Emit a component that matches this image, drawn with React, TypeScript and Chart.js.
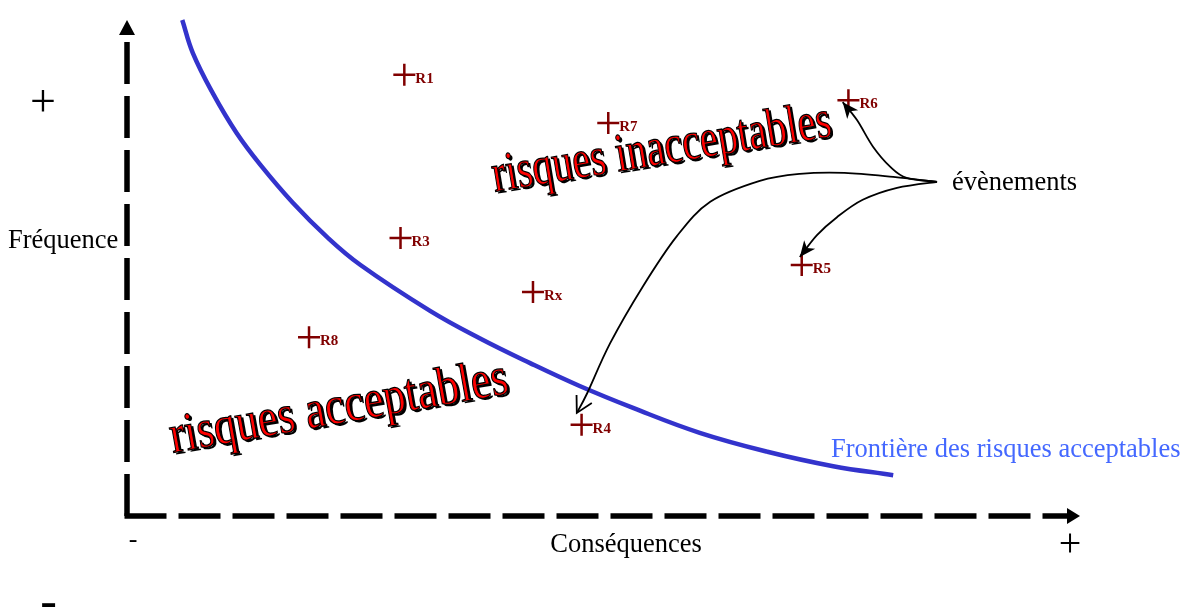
import React, { useEffect, useRef } from "react";
import { Chart, registerables } from "chart.js";

Chart.register(...registerables);

// ---- Data (consequence on x, frequency on y, both on a 0..10 scale) ----
const riskNames = ["R1", "R3", "R4", "R5", "R6", "R7", "R8", "Rx"];
const riskConsequence = [2.91, 2.87, 4.77, 7.08, 7.57, 5.05, 1.91, 4.26];
const riskFrequency = [8.86, 5.58, 1.83, 5.04, 8.35, 7.89, 3.59, 4.5];

const frontierConsequence = [0.58, 0.69, 0.9, 1.15, 1.4, 1.74, 2.1, 2.45, 3.18, 3.7, 4.23, 4.75, 5.31, 6.01, 6.72, 7.41, 8.04];
const frontierFrequency = [9.96, 9.3, 8.49, 7.69, 7.05, 6.29, 5.6, 5.04, 4.12, 3.57, 3.07, 2.61, 2.17, 1.67, 1.29, 1.0, 0.82];

// "évènements" arrows (data coordinates)
const arrowR6X = [8.5, 8.18, 8.01, 7.83, 7.66, 7.51];
const arrowR6Y = [6.71, 6.79, 7.01, 7.41, 7.95, 8.31];
const arrowR5X = [8.5, 8.08, 7.72, 7.45, 7.24, 7.06];
const arrowR5Y = [6.71, 6.59, 6.35, 6.0, 5.64, 5.2];
const arrowR4X = [8.5, 8.04, 7.53, 7.06, 6.64, 6.12, 5.77, 5.41, 5.07, 4.83, 4.72];
const arrowR4Y = [6.71, 6.81, 6.89, 6.87, 6.73, 6.31, 5.62, 4.6, 3.47, 2.47, 2.07];

// Word-art zone labels: baseline start / end in data coordinates
const zoneLabels = ["risques inacceptables", "risques acceptables"];
const zoneStartX = [3.86, 0.48];
const zoneStartY = [6.51, 1.27];
const zoneEndX = [7.41, 4.02];
const zoneEndY = [7.63, 2.47];

const xAxisTitle = "Conséquences";
const yAxisTitle = "Fréquence";
const eventsLabel = "évènements";
const frontierLabel = "Frontière des risques acceptables";

const SERIF = '"Liberation Serif", "Times New Roman", serif';

type P = { x: number; y: number };

function smoothPath(ctx: CanvasRenderingContext2D, pts: P[]) {
  ctx.moveTo(pts[0].x, pts[0].y);
  for (let i = 0; i < pts.length - 1; i++) {
    const p0 = pts[i - 1] || pts[i];
    const p1 = pts[i];
    const p2 = pts[i + 1];
    const p3 = pts[i + 2] || p2;
    ctx.bezierCurveTo(
      p1.x + (p2.x - p0.x) / 6,
      p1.y + (p2.y - p0.y) / 6,
      p2.x - (p3.x - p1.x) / 6,
      p2.y - (p3.y - p1.y) / 6,
      p2.x,
      p2.y
    );
  }
}

const overlayPlugin = {
  id: "overlay",
  beforeDatasetsDraw(chart: any) {
    const ctx: CanvasRenderingContext2D = chart.ctx;
    const a = chart.chartArea;
    ctx.save();
    ctx.strokeStyle = "#000";
    ctx.fillStyle = "#000";
    ctx.lineWidth = 5.5;
    ctx.lineCap = "butt";
    ctx.setLineDash([42, 12]);
    // vertical axis (from bottom upward)
    ctx.beginPath();
    ctx.moveTo(a.left, a.bottom);
    ctx.lineTo(a.left, a.top + 24);
    ctx.stroke();
    // horizontal axis
    ctx.beginPath();
    ctx.moveTo(a.left - 2.5, a.bottom);
    ctx.lineTo(a.right - 12, a.bottom);
    ctx.stroke();
    ctx.setLineDash([]);
    // arrow heads
    ctx.beginPath();
    ctx.moveTo(a.left, a.top + 2);
    ctx.lineTo(a.left - 8, a.top + 17);
    ctx.lineTo(a.left + 8, a.top + 17);
    ctx.closePath();
    ctx.fill();
    ctx.beginPath();
    ctx.moveTo(a.right, a.bottom);
    ctx.lineTo(a.right - 13, a.bottom - 8);
    ctx.lineTo(a.right - 13, a.bottom + 8);
    ctx.closePath();
    ctx.fill();

    // axis texts
    ctx.fillStyle = "#000";
    ctx.textBaseline = "alphabetic";
    ctx.font = `26.5px ${SERIF}`;
    ctx.textAlign = "left";
    ctx.fillText(yAxisTitle, 8, 248);
    ctx.textAlign = "center";
    ctx.fillText(xAxisTitle, 626, 552);
    ctx.font = `46px ${SERIF}`;
    ctx.fillText("+", 43, 115.5);
    ctx.font = `40px ${SERIF}`;
    ctx.fillText("+", 1070, 556);
    ctx.font = `26px ${SERIF}`;
    ctx.fillText("-", 133, 547);
    ctx.font = `50px ${SERIF}`;
    ctx.fillText("-", 48.5, 617);
    ctx.restore();
  },
  afterDatasetsDraw(chart: any) {
    const ctx: CanvasRenderingContext2D = chart.ctx;
    const xs = chart.scales.x;
    const ys = chart.scales.y;
    const toPx = (xArr: number[], yArr: number[]): P[] =>
      xArr.map((v, i) => ({ x: xs.getPixelForValue(v), y: ys.getPixelForValue(yArr[i]) }));

    ctx.save();
    // risk labels
    const meta = chart.getDatasetMeta(1);
    ctx.font = `bold 15px ${SERIF}`;
    ctx.fillStyle = "#800000";
    ctx.textAlign = "left";
    ctx.textBaseline = "alphabetic";
    meta.data.forEach((pt: any, i: number) => {
      ctx.fillText(riskNames[i], pt.x + 11, pt.y + 8);
    });

    // word-art zone labels
    zoneLabels.forEach((txt, i) => {
      const p0 = { x: xs.getPixelForValue(zoneStartX[i]), y: ys.getPixelForValue(zoneStartY[i]) };
      const p1 = { x: xs.getPixelForValue(zoneEndX[i]), y: ys.getPixelForValue(zoneEndY[i]) };
      const len = Math.hypot(p1.x - p0.x, p1.y - p0.y);
      const ang = Math.atan2(p1.y - p0.y, p1.x - p0.x);
      ctx.save();
      ctx.translate(p0.x, p0.y);
      ctx.rotate(ang);
      ctx.font = `52px ${SERIF}`;
      const w = ctx.measureText(txt).width;
      ctx.scale(len / w, 1.05);
      ctx.fillStyle = "#000";
      ctx.fillText(txt, 2.5, 2.2);
      ctx.fillStyle = "#ff0000";
      ctx.fillText(txt, 0, 0);
      ctx.lineWidth = 1.2;
      ctx.strokeStyle = "#000";
      ctx.strokeText(txt, 0, 0);
      ctx.restore();
    });

    // event arrows
    ctx.strokeStyle = "#000";
    ctx.fillStyle = "#000";
    ctx.lineWidth = 1.8;
    const drawArrow = (pts: P[], filled: boolean) => {
      ctx.beginPath();
      smoothPath(ctx, pts);
      ctx.stroke();
      const tip = pts[pts.length - 1];
      const prev = pts[pts.length - 2];
      const ang = Math.atan2(tip.y - prev.y, tip.x - prev.x);
      if (filled) {
        const L = 16;
        const W = 7;
        const bx = tip.x - L * Math.cos(ang);
        const by = tip.y - L * Math.sin(ang);
        const nx = -Math.sin(ang);
        const ny = Math.cos(ang);
        const mx = tip.x - L * 0.72 * Math.cos(ang);
        const my = tip.y - L * 0.72 * Math.sin(ang);
        ctx.beginPath();
        ctx.moveTo(tip.x, tip.y);
        ctx.lineTo(bx + nx * W, by + ny * W);
        ctx.lineTo(mx, my);
        ctx.lineTo(bx - nx * W, by - ny * W);
        ctx.closePath();
        ctx.fill();
      } else {
        const L = 18;
        const spread = 0.5;
        ctx.beginPath();
        ctx.moveTo(tip.x - L * Math.cos(ang - spread), tip.y - L * Math.sin(ang - spread));
        ctx.lineTo(tip.x, tip.y);
        ctx.lineTo(tip.x - L * Math.cos(ang + spread), tip.y - L * Math.sin(ang + spread));
        ctx.stroke();
      }
    };
    drawArrow(toPx(arrowR6X, arrowR6Y), true);
    drawArrow(toPx(arrowR5X, arrowR5Y), true);
    drawArrow(toPx(arrowR4X, arrowR4Y), false);

    // event / frontier texts
    ctx.font = `26.5px ${SERIF}`;
    ctx.fillStyle = "#000";
    ctx.textAlign = "left";
    ctx.fillText(eventsLabel, 952, 190);
    ctx.fillStyle = "#4468ff";
    ctx.fillText(frontierLabel, 831, 457);
    ctx.restore();
  },
};

export default function App() {
  const ref = useRef<HTMLCanvasElement>(null);
  useEffect(() => {
    const canvas = ref.current;
    if (!canvas) return;
    const chart = new Chart(canvas, {
      type: "scatter",
      data: {
        datasets: [
          {
            type: "line",
            label: frontierLabel,
            data: frontierConsequence.map((x, i) => ({ x, y: frontierFrequency[i] })),
            borderColor: "#3333cc",
            borderWidth: 4.5,
            pointRadius: 0,
            fill: false,
            tension: 0.4,
            clip: false,
          } as any,
          {
            label: "Risques",
            data: riskConsequence.map((x, i) => ({ x, y: riskFrequency[i] })),
            pointStyle: "cross",
            pointRadius: 11,
            pointBorderWidth: 2.5,
            borderColor: "#800000",
            backgroundColor: "#800000",
            showLine: false,
            clip: false,
          } as any,
        ],
      },
      options: {
        responsive: false,
        animation: false,
        events: [],
        layout: { padding: { left: 127, right: 105, top: 18, bottom: 91 } },
        scales: {
          x: { type: "linear", min: 0, max: 10, display: false },
          y: { type: "linear", min: 0, max: 10, display: false },
        },
        plugins: {
          legend: { display: false },
          tooltip: { enabled: false },
        },
      },
      plugins: [overlayPlugin],
    });
    return () => chart.destroy();
  }, []);
  return (
    <div style={{ position: "fixed", left: 0, top: 0, width: 1185, height: 607, background: "#fff" }}>
      <canvas ref={ref} width={1185} height={607} style={{ display: "block", width: 1185, height: 607 }} />
    </div>
  );
}
